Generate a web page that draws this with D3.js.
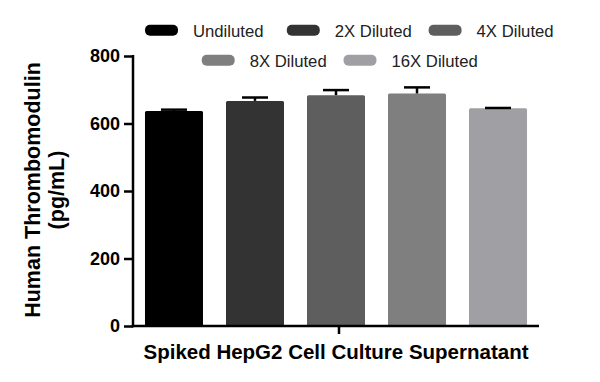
<!DOCTYPE html>
<html>
<head>
<meta charset="utf-8">
<script src="https://cdn.jsdelivr.net/npm/d3@7"></script>
<style>
html,body{margin:0;padding:0;background:#fff;}
svg{display:block;}
text{font-family:"Liberation Sans",Arial,sans-serif;}
</style>
</head>
<body>
<svg id="chart" width="600" height="382"></svg>
<script>
const categories = ["Undiluted", "2X Diluted", "4X Diluted", "8X Diluted", "16X Diluted"];
const means = [637, 667, 684, 689, 645];
const errors = [4, 10, 15, 18, 1];
const colors = ["#000000", "#333333", "#5e5e5e", "#7f7f7f", "#a0a0a4"];
const yTicks = [0, 200, 400, 600, 800];
const xLabel = "Spiked HepG2 Cell Culture Supernatant";
const yLabelLines = ["Human Thrombomodulin", "(pg/mL)"];
const legendRows = [[0, 1, 2], [3, 4]];

const svg = d3.select("#chart");
const x0 = 133, x1 = 539, yTop = 56, yBot = 326;

const x = d3.scaleBand().domain(categories).range([x0, x1]).paddingInner(0.284).paddingOuter(0.148);
const y = d3.scaleLinear().domain([0, 800]).range([yBot, yTop]);

// bars
svg.append("g").selectAll("rect").data(categories).join("rect")
  .attr("x", d => x(d))
  .attr("y", (d, i) => y(means[i]))
  .attr("width", x.bandwidth())
  .attr("height", (d, i) => y(0) - y(means[i]))
  .attr("rx", 1.5)
  .attr("fill", (d, i) => colors[i]);

// error bars (upper only)
const eg = svg.append("g").attr("stroke", "#000").attr("stroke-width", 2.5);
categories.forEach((c, i) => {
  const cx = x(c) + x.bandwidth() / 2;
  eg.append("line").attr("x1", cx).attr("x2", cx).attr("y1", y(means[i])).attr("y2", y(means[i] + errors[i]));
  eg.append("line").attr("x1", cx - 13).attr("x2", cx + 13).attr("y1", y(means[i] + errors[i])).attr("y2", y(means[i] + errors[i]));
});

// y axis
const yAxis = svg.append("g").attr("transform", `translate(${x0},0)`)
  .call(d3.axisLeft(y).tickValues(yTicks).tickSize(9).tickPadding(4).tickSizeOuter(0));
yAxis.select(".domain").attr("stroke", "#000").attr("stroke-width", 2.5).attr("d", `M0,${yTop - 1}V${yBot + 1.2}`);
yAxis.selectAll(".tick line").attr("stroke", "#000").attr("stroke-width", 2.5);
yAxis.selectAll(".tick text").attr("font-size", 18).attr("font-weight", "bold").attr("fill", "#000")
  .style("font-family", '"Liberation Sans",Arial,sans-serif');

// x axis
const xAxisG = svg.append("g");
xAxisG.append("line").attr("x1", x0 - 1.2).attr("x2", x1).attr("y1", yBot).attr("y2", yBot)
  .attr("stroke", "#000").attr("stroke-width", 2.5);
xAxisG.append("line").attr("x1", (x0 + x1) / 2 + 3).attr("x2", (x0 + x1) / 2 + 3).attr("y1", yBot).attr("y2", yBot + 8)
  .attr("stroke", "#000").attr("stroke-width", 2.5);

svg.append("text").attr("x", 336).attr("y", 359).attr("text-anchor", "middle")
  .attr("font-size", 20.5).attr("font-weight", "bold").attr("fill", "#000").text(xLabel);

// y title
const yt = svg.append("text").attr("transform", "translate(40,190) rotate(-90)")
  .attr("text-anchor", "middle").attr("font-size", 21.5).attr("font-weight", "bold").attr("fill", "#000");
yLabelLines.forEach((t, i) => {
  yt.append("tspan").attr("x", 0).attr("y", i * 24).text(t);
});

// legend (fixed column step, as in the source)
const swW = 33, swH = 11, gap = 15, colStep = 141.8;
const rowY = [30.3, 60.3];
const rowStartX = [145, 201.7];
legendRows.forEach((row, r) => {
  row.forEach((i, k) => {
    const cx = rowStartX[r] + k * colStep;
    svg.append("rect").attr("x", cx).attr("y", rowY[r] - swH / 2).attr("width", swW).attr("height", swH)
      .attr("rx", 5).attr("fill", colors[i]);
    svg.append("text").attr("x", cx + swW + gap).attr("y", rowY[r] + 6.2)
      .attr("font-size", 16.7).attr("fill", "#222").text(categories[i]);
  });
});
</script>
</body>
</html>
